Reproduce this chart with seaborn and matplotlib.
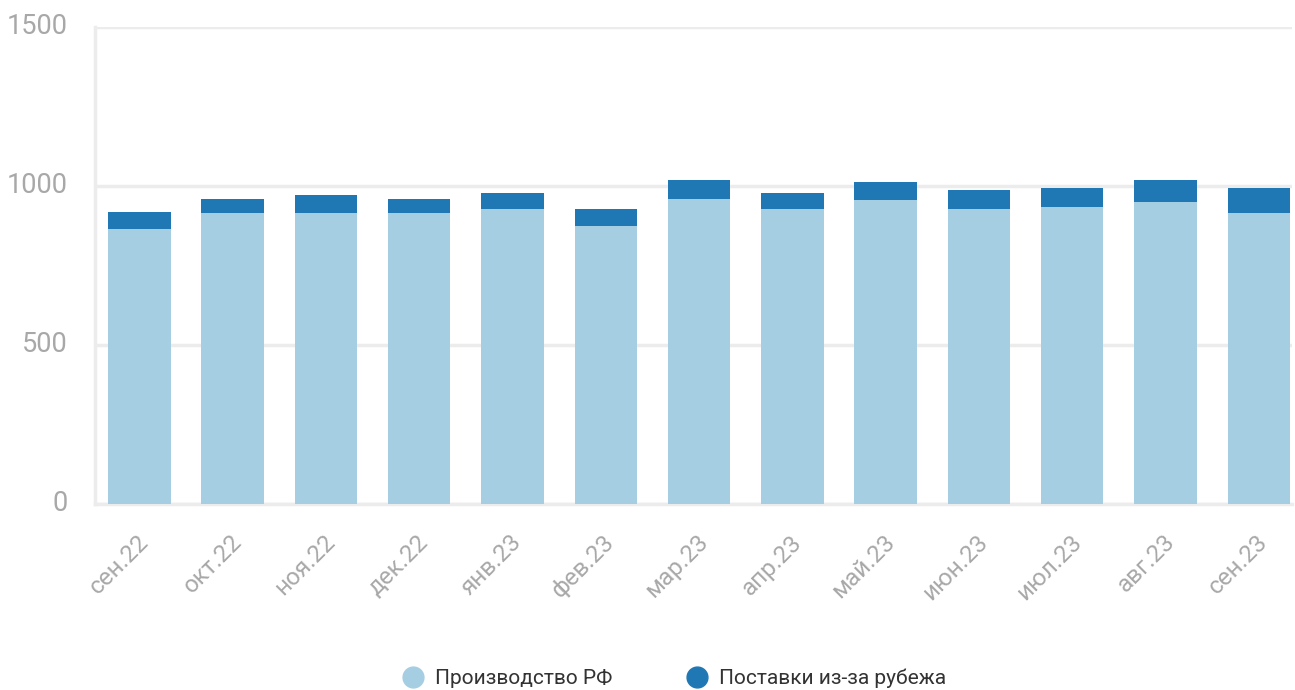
import matplotlib
matplotlib.use("Agg")
import matplotlib.pyplot as plt
import matplotlib.transforms as mtransforms
from matplotlib.lines import Line2D
import pandas as pd
import seaborn as sns

months = ["сен.22", "окт.22", "ноя.22", "дек.22", "янв.23", "фев.23", "мар.23",
          "апр.23", "май.23", "июн.23", "июл.23", "авг.23", "сен.23"]
domestic = [866, 916, 916, 916, 926, 875, 960, 926, 957, 926, 935, 951, 916]
imports = [53, 44, 54, 44, 53, 54, 60, 53, 54, 60, 60, 69, 79]

LIGHT = "#a6cee3"
DARK = "#1f78b4"
GRID = "#ececec"
TICK = "#a8a8a8"

df = pd.DataFrame({"month": months, "domestic": domestic, "imports": imports})
df["total"] = df["domestic"] + df["imports"]

sns.set_theme(style="white")
plt.rcParams["font.family"] = ["Roboto", "DejaVu Sans"]

fig = plt.figure(figsize=(12.95, 6.9), dpi=100)
ax = fig.add_axes([0.073, 0.2696, 0.925, 0.6914])

# stacked bars: total first (dark), domestic share on top of it (light)
sns.barplot(data=df, x="month", y="total", color=DARK, width=0.67,
            saturation=1, linewidth=0, edgecolor="none", ax=ax, zorder=3)
sns.barplot(data=df, x="month", y="domestic", color=LIGHT, width=0.67,
            saturation=1, linewidth=0, edgecolor="none", ax=ax, zorder=3)

ax.set_ylim(0, 1500)
ax.set_xlim(-0.48, 12.36)
ax.set_yticks([0, 500, 1000, 1500])
ax.yaxis.grid(True, color=GRID, linewidth=2.5, zorder=0)
ax.set_axisbelow(True)
ax.set_xlabel("")
ax.set_ylabel("")

for side in ["top", "right"]:
    ax.spines[side].set_visible(False)
for side in ["left", "bottom"]:
    ax.spines[side].set_color(GRID)
    ax.spines[side].set_linewidth(2.5)

ax.tick_params(axis="y", length=0, pad=19, labelsize=19.5, labelcolor=TICK)
ax.tick_params(axis="x", length=0, pad=25, labelsize=17.5, labelcolor=TICK)
ax.set_xticks(range(len(months)))
ax.set_xticklabels(months, rotation=45, ha="right", va="center",
                   rotation_mode="anchor")
shift = mtransforms.ScaledTranslation(4 / 72, 0, fig.dpi_scale_trans)
for lbl in ax.get_xticklabels():
    lbl.set_transform(lbl.get_transform() + shift)
for lbl in ax.get_yticklabels():
    lbl.set_verticalalignment("center")

handles = [
    Line2D([], [], marker="o", linestyle="", markersize=15, color=LIGHT),
    Line2D([], [], marker="o", linestyle="", markersize=15, color=DARK),
]
fig.legend(handles, ["Производство РФ", "Поставки из-за рубежа"],
           loc="center", bbox_to_anchor=(0.5165, 0.017), ncol=2, frameon=False,
           fontsize=15, labelcolor="#333333", handletextpad=0.06,
           columnspacing=3.06)

fig.savefig("out.png", dpi=100)
